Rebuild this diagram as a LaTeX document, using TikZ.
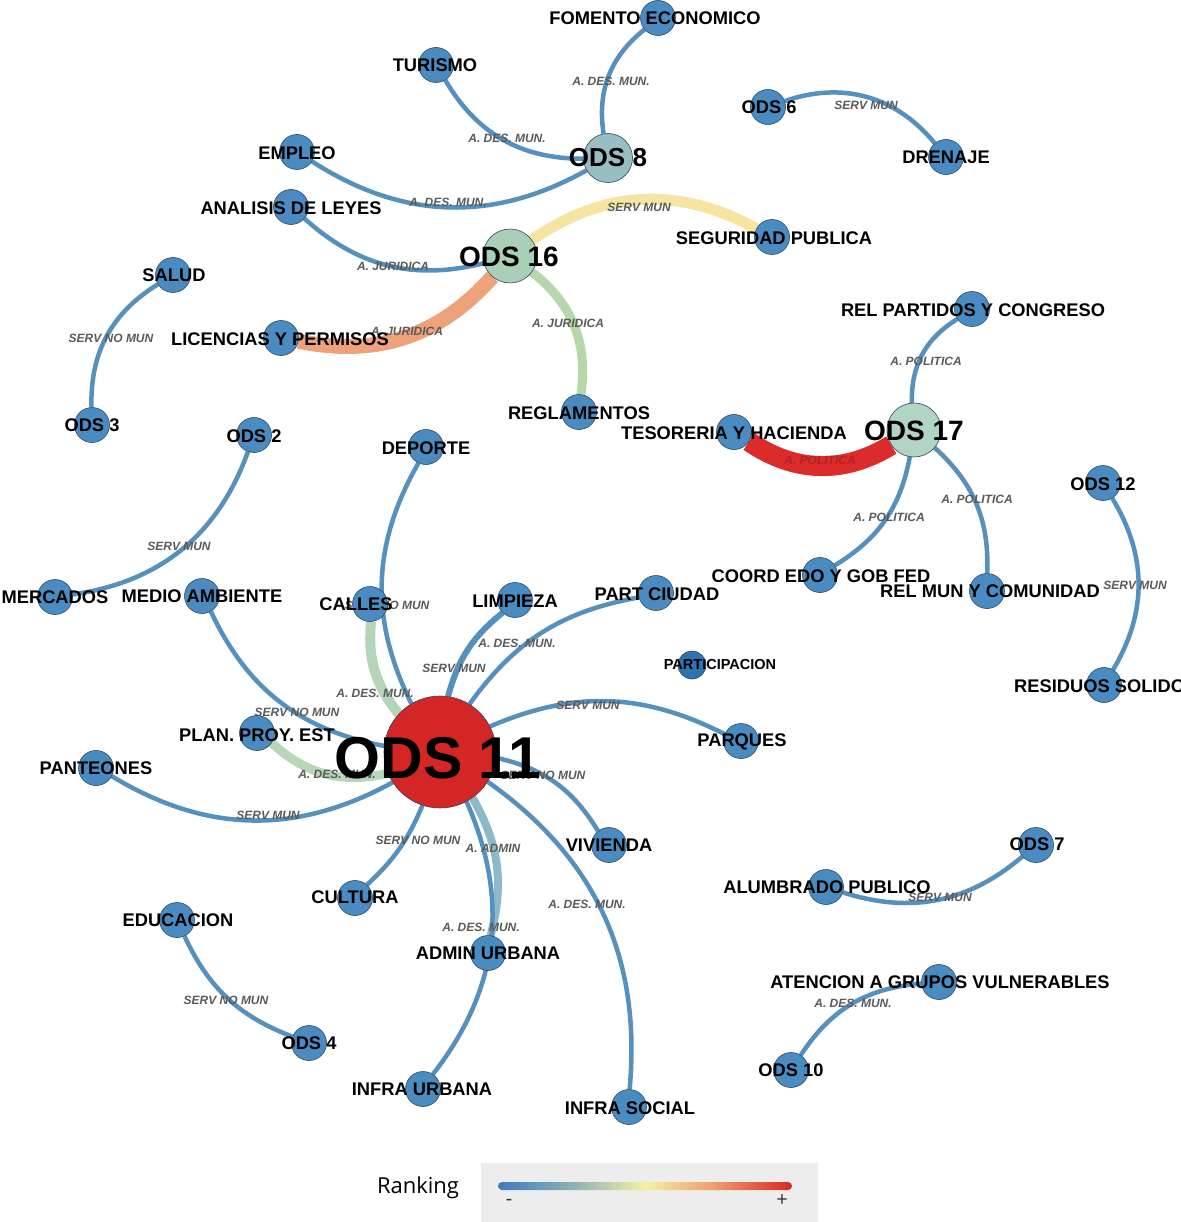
\documentclass[tikz,border=0pt]{standalone}
\usepackage{fontspec}
\setmainfont{Liberation Sans}
\newfontfamily\legendfont{Open Sans}
\pgfdeclarelayer{paper}
\pgfdeclarelayer{edges}
\pgfsetlayers{paper,edges,main}

\definecolor{nodeblue}{HTML}{4A8CC2}
\definecolor{partblue}{HTML}{2F72B0}
\definecolor{dotline}{HTML}{2C4A62}
\definecolor{edgeblue}{HTML}{5590BE}
\definecolor{elabgray}{HTML}{5A5A5A}
\definecolor{odseight}{HTML}{97BEC3}
\definecolor{odssixteen}{HTML}{A9CFB6}
\definecolor{odsseventeen}{HTML}{B2D4C2}
\definecolor{odsred}{HTML}{D52626}
\definecolor{segyellow}{HTML}{F6E4A2}
\definecolor{licorange}{HTML}{EEA27C}
\definecolor{reggreen}{HTML}{B6D7AA}
\definecolor{tesred}{HTML}{DC2B2B}
\definecolor{calgreen}{HTML}{B4D5B8}
\definecolor{plagreen}{HTML}{B8D6B8}
\definecolor{admteal}{HTML}{8DB9C9}
\definecolor{legendgray}{HTML}{EDEDED}
\definecolor{rkA}{HTML}{3E7BC0}
\definecolor{rkB}{HTML}{8FB3B3}
\definecolor{rkC}{HTML}{F4F1A2}
\definecolor{rkD}{HTML}{EFA274}
\definecolor{rkE}{HTML}{D82828}
\pgfdeclarehorizontalshading{ranking}{100bp}{color(0bp)=(rkA); color(25bp)=(rkA); color(38bp)=(rkB); color(50bp)=(rkC); color(61bp)=(rkD); color(75bp)=(rkE); color(100bp)=(rkE)}

\begin{document}
\begin{tikzpicture}[x=1pt,y=-1pt,
  dot/.style={circle, draw=dotline, line width=0.6pt, fill=nodeblue, minimum size=35pt, inner sep=0pt},
  ods/.style={circle, draw=dotline, line width=0.6pt, minimum size=#1, inner sep=0pt},
  nlab/.style={font=\fontsize{18.3}{18.3}\selectfont\bfseries, inner sep=0pt, text=black},
  odslab/.style={font=\fontsize{#1}{#1}\selectfont\bfseries, inner sep=0pt, text=black},
  elab/.style={font=\fontsize{12}{12}\selectfont\bfseries\itshape, text=elabgray, inner sep=0pt},
  link/.style={draw=edgeblue, line width=4.5pt},
]
\useasboundingbox (0,0) rectangle (1180,1222);
\begin{pgfonlayer}{paper}
\fill[white] (0,0) rectangle (1180,1222);
\end{pgfonlayer}

% ---- vertices ----
\node[dot] (fom) at (658,18) {};
\node[dot] (tur) at (436,65) {};
\node[dot] (ods6) at (768,107) {};
\node[dot] (dre) at (946,157) {};
\node[dot] (emp) at (297,152) {};
\node[ods=49pt, fill=odseight] (ods8) at (608,158) {};
\node[dot] (ana) at (291,207) {};
\node[dot] (seg) at (772,237) {};
\node[ods=54pt, fill=odssixteen] (ods16) at (510,256) {};
\node[dot] (sal) at (173,275) {};
\node[dot] (lic) at (281,338) {};
\node[dot] (relp) at (972,309) {};
\node[dot] (ods3) at (92,425) {};
\node[dot] (ods2) at (254,435) {};
\node[dot] (dep) at (426,447) {};
\node[dot] (reg) at (579,412) {};
\node[dot] (tes) at (734,432) {};
\node[ods=54pt, fill=odsseventeen] (ods17) at (914,430) {};
\node[dot] (ods12) at (1103,483) {};
\node[dot] (mer) at (55,597) {};
\node[dot] (med) at (202,596) {};
\node[dot] (cal) at (370,604) {};
\node[dot] (lim) at (515,600) {};
\node[dot] (par) at (656,593) {};
\node[dot] (coo) at (820,575) {};
\node[dot] (relm) at (987,591) {};
\node[dot, minimum size=28pt, fill=partblue] (pcp) at (692,665) {};
\node[dot] (res) at (1104,685) {};
\node[dot] (pla) at (257,733) {};
\node[ods=112pt, fill=odsred] (ods11) at (440,752) {};
\node[dot] (prq) at (741,741) {};
\node[dot] (pan) at (96,768) {};
\node[dot] (viv) at (609,845) {};
\node[dot] (ods7) at (1036,845) {};
\node[dot] (cul) at (355,898) {};
\node[dot] (alu) at (826,887) {};
\node[dot] (edu) at (177,920) {};
\node[dot] (adm) at (488,953) {};
\node[dot] (ate) at (939,982) {};
\node[dot] (ods4) at (309,1043) {};
\node[dot] (ods10) at (791,1070) {};
\node[dot] (ifu) at (423,1089) {};
\node[dot] (ifs) at (629,1107) {};

% ---- links, behind the vertices ----
\begin{pgfonlayer}{edges}
\draw[link] (ods8) to[bend left=30] (fom);
\draw[link] (tur) to[bend right=30] (ods8);
\draw[link] (emp) to[bend right=31] (ods8);
\draw[link] (ods6) to[bend left=35] (dre);
\draw[link] (ana) to[bend right=28] (ods16);
\draw[link, draw=segyellow, line width=11pt] (ods16) to[bend left=32] (seg);
\draw[link, draw=licorange, line width=15pt] (ods16) to[bend left=30] (lic);
\draw[link, draw=reggreen, line width=9pt] (ods16) to[bend left=30] (reg);
\draw[link] (sal) to[bend right=30] (ods3);
\draw[link] (ods17) to[bend left=30] (relp);
\draw[link, draw=tesred, line width=20pt] (tes) to[bend right=33] (ods17);
\draw[link] (ods17) to[bend left=24] (coo);
\draw[link] (ods17) to[bend left=25] (relm);
\draw[link] (ods12) to[bend left=31] (res);
\draw[link] (ods2) to[bend left=31] (mer);
\draw[link] (dep) to[bend right=28] (ods11);
\draw[link, draw=calgreen, line width=10pt] (cal) to[bend right=22] (ods11);
\draw[link, line width=6pt] (lim) to[bend right=18] (ods11);
\draw[link] (par) to[bend right=22] (ods11);
\draw[link] (med) to[bend right=27] (ods11);
\draw[link, draw=plagreen, line width=9pt] (pla) to[bend right=28] (ods11);
\draw[link] (pan) to[bend right=30] (ods11);
\draw[link] (ods11) to[bend left=25] (prq);
\draw[link] (ods11) to[bend left=23] (viv);
\draw[link] (ods11) to[bend left=12] (cul);
\draw[link, draw=admteal, line width=8pt] (ods11) to[bend left=22] (adm);
\draw[link] (ods11) to[bend left=31] (ifu);
\draw[link] (ods11) to[bend left=30] (ifs);
\draw[link] (edu) to[bend right=22] (ods4);
\draw[link] (alu) to[bend right=29] (ods7);
\draw[link] (ate) to[bend right=26] (ods10);

% link labels
\node[elab] (e1) at (611,81) {A. DES. MUN.};
\node[elab] (e2) at (507,138) {A. DES. MUN.};
\node[elab] (e3) at (448,202) {A. DES. MUN.};
\node[elab] (e4) at (866,105) {SERV MUN};
\node[elab] (e5) at (393,266) {A. JURIDICA};
\node[elab] (e6) at (639,207) {SERV MUN};
\node[elab] (e7) at (407,331) {A. JURIDICA};
\node[elab] (e8) at (568,323) {A. JURIDICA};
\node[elab] (e9) at (111,338) {SERV NO MUN};
\node[elab] (e10) at (926,361) {A. POLITICA};
\node[elab, text=tesred!70!black, opacity=0.6] (e11) at (820,460) {A. POLITICA};
\node[elab] (e12) at (889,517) {A. POLITICA};
\node[elab] (e13) at (977,499) {A. POLITICA};
\node[elab] (e14) at (1135,585) {SERV MUN};
\node[elab] (e15) at (179,546) {SERV MUN};
\node[elab] (e16) at (387,605) {SERV NO MUN};
\node[elab] (e17) at (375,693) {A. DES. MUN.};
\node[elab] (e18) at (454,668) {SERV MUN};
\node[elab] (e19) at (517,643) {A. DES. MUN.};
\node[elab] (e20) at (297,712) {SERV NO MUN};
\node[elab] (e21) at (337,774) {A. DES. MUN.};
\node[elab] (e22) at (268,815) {SERV MUN};
\node[elab] (e23) at (588,705) {SERV MUN};
\node[elab] (e24) at (543,775) {SERV NO MUN};
\node[elab] (e25) at (418,840) {SERV NO MUN};
\node[elab] (e26) at (493,848) {A. ADMIN};
\node[elab] (e27) at (481,927) {A. DES. MUN.};
\node[elab] (e28) at (587,904) {A. DES. MUN.};
\node[elab] (e29) at (226,1000) {SERV NO MUN};
\node[elab] (e30) at (940,897) {SERV MUN};
\node[elab] (e31) at (853,1003) {A. DES. MUN.};
\end{pgfonlayer}

% ---- vertex names ----
\node[nlab] (fom-t) at (655,18) {FOMENTO ECONOMICO};
\node[nlab] (tur-t) at (435,65) {TURISMO};
\node[nlab] (ods6-t) at (769,107) {ODS 6};
\node[nlab] (dre-t) at (946,157) {DRENAJE};
\node[nlab] (emp-t) at (297,153) {EMPLEO};
\node[odslab=26] (ods8-t) at (608,158) {ODS 8};
\node[nlab] (ana-t) at (291,208) {ANALISIS DE LEYES};
\node[nlab] (seg-t) at (774,238) {SEGURIDAD PUBLICA};
\node[odslab=28] (ods16-t) at (509,257) {ODS 16};
\node[nlab] (sal-t) at (174,275) {SALUD};
\node[nlab] (lic-t) at (280,339) {LICENCIAS Y PERMISOS};
\node[nlab] (relp-t) at (973,310) {REL PARTIDOS Y CONGRESO};
\node[nlab] (ods3-t) at (92,425) {ODS 3};
\node[nlab] (ods2-t) at (254,436) {ODS 2};
\node[nlab] (dep-t) at (426,448) {DEPORTE};
\node[nlab] (reg-t) at (579,413) {REGLAMENTOS};
\node[nlab] (tes-t) at (734,433) {TESORERIA Y HACIENDA};
\node[odslab=28] (ods17-t) at (914,431) {ODS 17};
\node[nlab] (ods12-t) at (1103,484) {ODS 12};
\node[nlab] (mer-t) at (55,597) {MERCADOS};
\node[nlab] (med-t) at (202,596) {MEDIO AMBIENTE};
\node[nlab] (cal-t) at (356,604) {CALLES};
\node[nlab] (lim-t) at (515,601) {LIMPIEZA};
\node[nlab] (par-t) at (657,594) {PART CIUDAD};
\node[nlab] (coo-t) at (821,576) {COORD EDO Y GOB FED};
\node[nlab] (relm-t) at (990,591) {REL MUN Y COMUNIDAD};
\node[nlab, font=\fontsize{14.5}{14.5}\selectfont\bfseries] (pcp-t) at (720,665) {PARTICIPACION};
\node[nlab, anchor=west] (res-t) at (1014,686) {RESIDUOS SOLIDOS};
\node[nlab] (pla-t) at (257,735) {PLAN. PROY. EST};
\node[odslab=59] (ods11-t) at (438,758) {ODS 11};
\node[nlab] (prq-t) at (742,742) {PARQUES};
\node[nlab] (pan-t) at (96,768) {PANTEONES};
\node[nlab] (viv-t) at (609,845) {VIVIENDA};
\node[nlab] (ods7-t) at (1037,844) {ODS 7};
\node[nlab] (cul-t) at (355,897) {CULTURA};
\node[nlab] (alu-t) at (827,887) {ALUMBRADO PUBLICO};
\node[nlab] (edu-t) at (178,920) {EDUCACION};
\node[nlab] (adm-t) at (488,953) {ADMIN URBANA};
\node[nlab] (ate-t) at (940,982) {ATENCION A GRUPOS VULNERABLES};
\node[nlab] (ods4-t) at (309,1043) {ODS 4};
\node[nlab] (ods10-t) at (791,1070) {ODS 10};
\node[nlab] (ifu-t) at (422,1089) {INFRA URBANA};
\node[nlab] (ifs-t) at (630,1108) {INFRA SOCIAL};

% ---- colour key ----
\node[font=\legendfont\fontsize{22}{22}\selectfont, inner sep=0pt] (rk) at (418,1188) {Ranking};
\fill[legendgray] (481,1163) rectangle (818,1222);
\shade[shading=ranking, rounded corners=4pt] (498,1182) rectangle (792,1190);
\node[font=\legendfont\fontsize{20}{20}\selectfont, text=black!80, inner sep=0pt] (rk-lo) at (509,1202) {-};
\node[font=\legendfont\fontsize{20}{20}\selectfont, text=black!80, inner sep=0pt] (rk-hi) at (782,1201) {+};
\end{tikzpicture}
\end{document}
